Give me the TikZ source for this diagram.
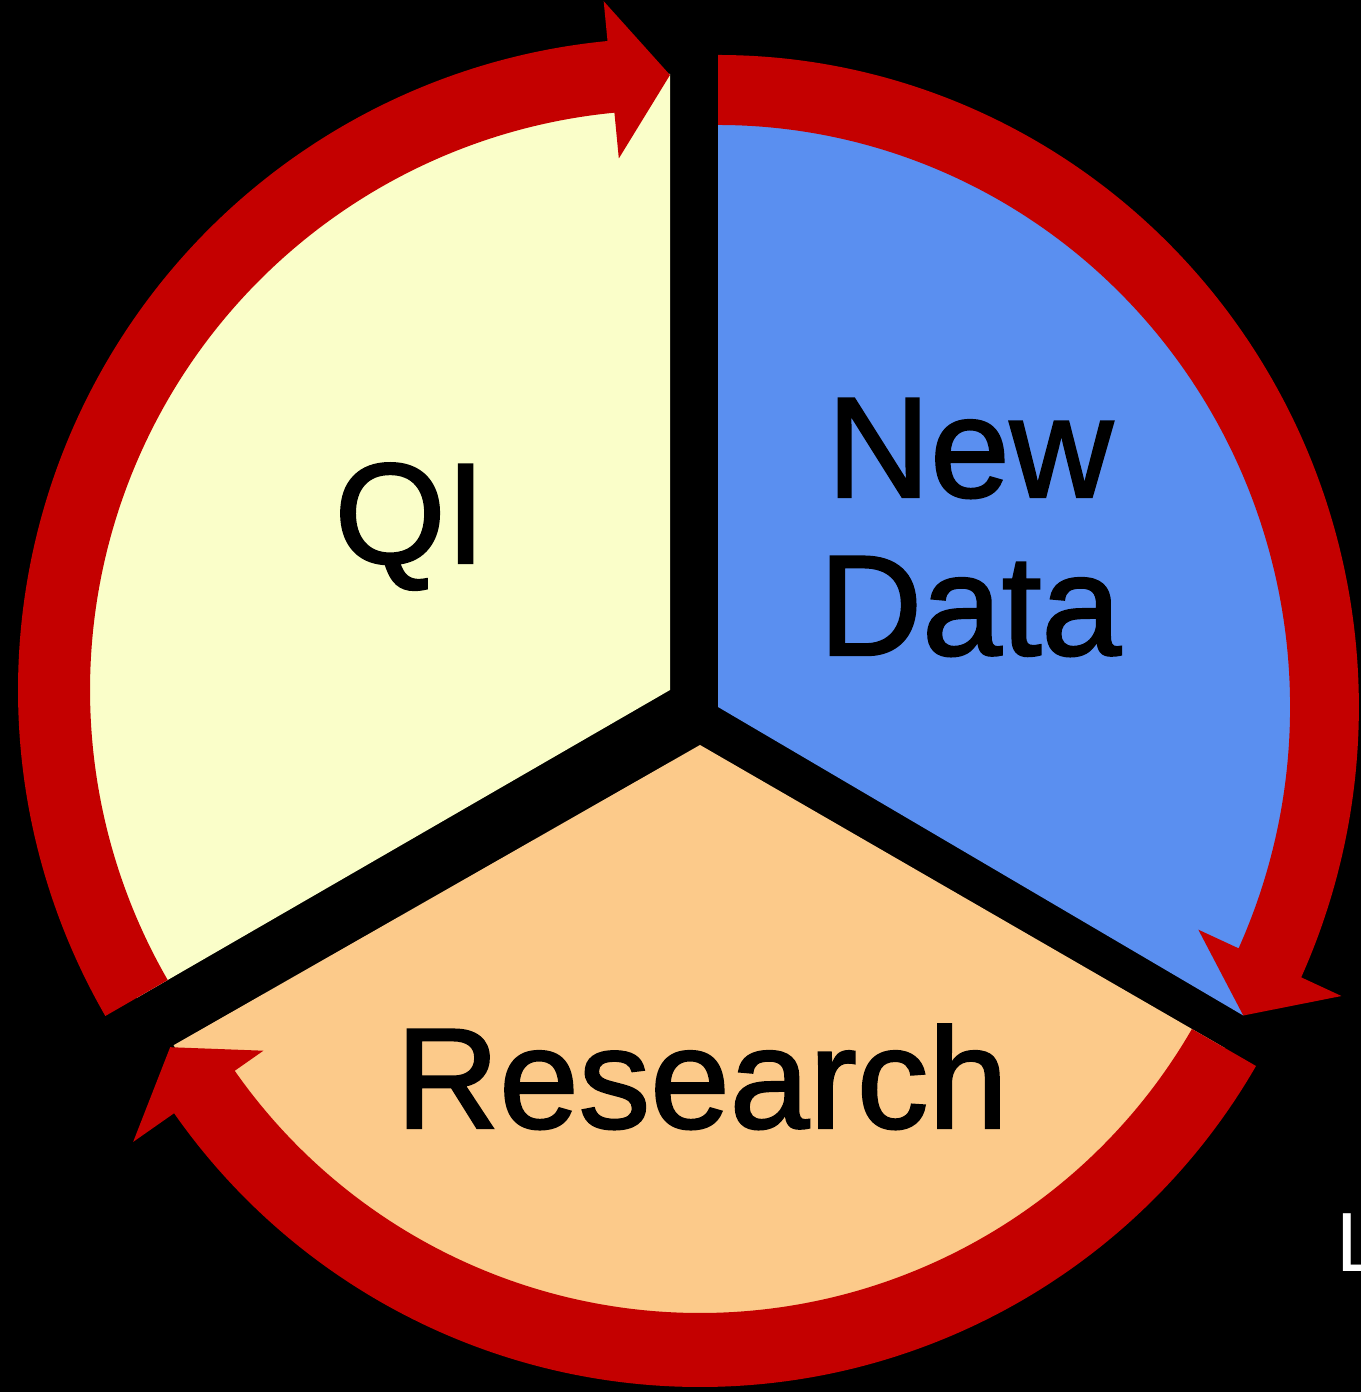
\documentclass[tikz,border=0pt]{standalone}
\usepackage{fontspec}
\setmainfont{Liberation Sans}
\newfontfamily\heavyfont{Liberation Sans}[FakeBold=1.6]
\definecolor{ringred}{HTML}{C40000}
\definecolor{qifill}{HTML}{FAFEC9}
\definecolor{ndfill}{HTML}{5A8FF0}
\definecolor{rsfill}{HTML}{FCCA8A}
\begin{document}
\begin{tikzpicture}[x=1pt,y=1pt,
  ringpart/.style={fill=ringred, draw=none},
  lbl/.style={font=\heavyfont\fontsize{143}{157}\selectfont, text=black, inner sep=0pt, anchor=base},
  smalllbl/.style={font=\fontsize{84}{90}\selectfont, text=white, inner sep=0pt, anchor=base west}]
\fill[black] (0,0) rectangle (1361,1392);
\useasboundingbox (0,0) rectangle (1361,1392);
\clip (0,0) rectangle (1361,1392);

% QI sector
\begin{scope}[shift={(670,702)}]
  \fill[qifill] (0,0) -- (90:616) arc[start angle=90, end angle=210, radius=616] -- cycle;
  \fill[ringpart] (210:652) arc[start angle=210, end angle=95.5, radius=652]
    -- (95.5:692) -- (90:615) -- (95.5:534) -- (95.5:580)
    arc[start angle=95.5, end angle=210, radius=580] -- cycle;
\end{scope}

% New Data sector
\begin{scope}[shift={(718,685)}, xscale=0.983]
  \fill[ndfill] (0,0) -- (90:617) arc[start angle=90, end angle=-30, radius=617] -- cycle;
  \fill[ringpart] (90:652) arc[start angle=90, end angle=-24.5, radius=652]
    -- (-24.5:697) -- (-30:617) -- (-24.5:537) -- (-24.5:582)
    arc[start angle=-24.5, end angle=90, radius=582] -- cycle;
\end{scope}

% Research sector
\begin{scope}[shift={(700,647)}]
  \fill[rsfill] (0,0) -- (-30:606) arc[start angle=-30, end angle=-150.3, radius=606] -- cycle;
  \fill[ringpart] (-30:642) arc[start angle=-30, end angle=-145, radius=642]
    -- (-145:692) -- (-150.3:610) -- (-145:533) -- (-145:568)
    arc[start angle=-145, end angle=-30, radius=568] -- cycle;
\end{scope}

\node[lbl] (qi) at (410,829) {QI};
\node[lbl] (new) at (970,895) {New};
\node[lbl] (data) at (970,737) {Data};
\node[lbl] (research) at (702,264) {Research};
\node[smalllbl] (edge) at (1336,120) {L};
\end{tikzpicture}
\end{document}
